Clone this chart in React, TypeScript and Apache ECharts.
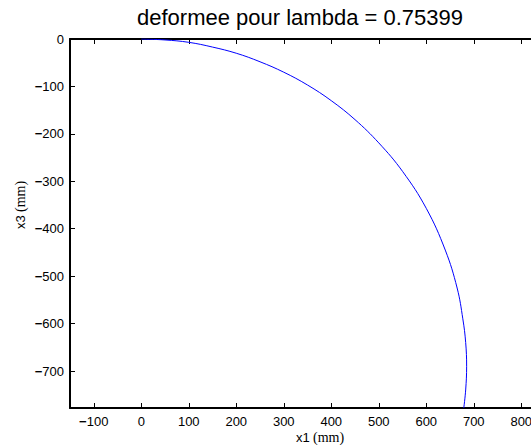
import React, { useEffect, useRef } from "react";
import * as echarts from "echarts";

const titleText = "deformee pour lambda = 0.75399";
const xTicks = [-100, 0, 100, 200, 300, 400, 500, 600, 700, 800];
const yTicks = [0, -100, -200, -300, -400, -500, -600, -700];
const curveX = [0, 50, 100, 150, 200, 250, 300, 350, 400, 450, 500, 550, 600, 640, 665, 677, 683, 685, 683, 679];
const curveY = [0, -2, -7, -17, -30, -48, -70, -97, -130, -170, -219, -279, -357, -445, -525, -590, -640, -690, -740, -778];

const SANS = "Liberation Sans, Arial, Helvetica, sans-serif";
const SERIF = "Liberation Serif, DejaVu Serif, serif";

const fmt = (v: number) => (v < 0 ? "{m|\u2212}" + String(Math.abs(v)) : String(v));

export default function App() {
  const ref = useRef<HTMLDivElement>(null);
  useEffect(() => {
    if (!ref.current) return;
    const chart = echarts.init(ref.current, undefined, { renderer: "svg" });
    const labelRich = { m: { fontWeight: "bold", fontSize: 13, fontFamily: SANS, color: "#000" } };
    const axisLine = { show: true, onZero: false, lineStyle: { color: "#000", width: 2 } };
    const tick = (vals: number[]) => ({ show: true, inside: true, length: 5, customValues: vals, lineStyle: { color: "#000", width: 1 } });
    chart.setOption({
      animation: false,
      backgroundColor: "#fff",
      grid: { left: 70, top: 39, right: 15, bottom: 37, containLabel: false },
      xAxis: [
        {
          type: "value", min: -150, max: 850, position: "bottom",
          axisLine, axisTick: tick(xTicks), splitLine: { show: false },
          axisLabel: { customValues: xTicks, formatter: fmt, rich: labelRich, color: "#000", fontSize: 13, fontFamily: SANS, margin: 7 },
        },
        {
          type: "value", min: -150, max: 850, position: "top",
          axisLine, axisTick: tick(xTicks), splitLine: { show: false }, axisLabel: { show: false },
        },
      ],
      yAxis: [
        {
          type: "value", min: -778, max: 0, position: "left",
          axisLine, axisTick: tick(yTicks), splitLine: { show: false },
          axisLabel: { customValues: yTicks, formatter: fmt, rich: labelRich, color: "#000", fontSize: 13, fontFamily: SANS, margin: 6 },
        },
        {
          type: "value", min: -778, max: 0, position: "right",
          axisLine, axisTick: tick(yTicks), splitLine: { show: false }, axisLabel: { show: false },
        },
      ],
      graphic: [
        { type: "text", x: 300, y: 6, style: { text: titleText, fontSize: 22, fontFamily: SANS, fill: "#000", textAlign: "center", textVerticalAlign: "top" } },
        {
          type: "text", x: 320, y: 437,
          style: {
            text: "{a|x1} {b|(mm)}", textAlign: "center", textVerticalAlign: "middle",
            rich: { a: { fontSize: 13, fontFamily: SANS, fill: "#000" }, b: { fontSize: 14, fontFamily: SERIF, fill: "#000" } },
          },
        },
        {
          type: "text", x: 20, y: 205, rotation: Math.PI / 2,
          style: {
            text: "{a|x3} {b|(mm)}", textAlign: "center", textVerticalAlign: "middle",
            rich: { a: { fontSize: 13, fontFamily: SANS, fill: "#000" }, b: { fontSize: 14, fontFamily: SERIF, fill: "#000" } },
          },
        },
      ],
      series: [
        {
          type: "line",
          data: curveX.map((x, i) => [x, curveY[i]]),
          showSymbol: false,
          smooth: 0.4,
          clip: true,
          lineStyle: { color: "#0000ff", width: 1 },
        },
      ],
    });
    return () => chart.dispose();
  }, []);
  return <div ref={ref} style={{ position: "fixed", left: 0, top: 0, width: 560, height: 445 }} />;
}
